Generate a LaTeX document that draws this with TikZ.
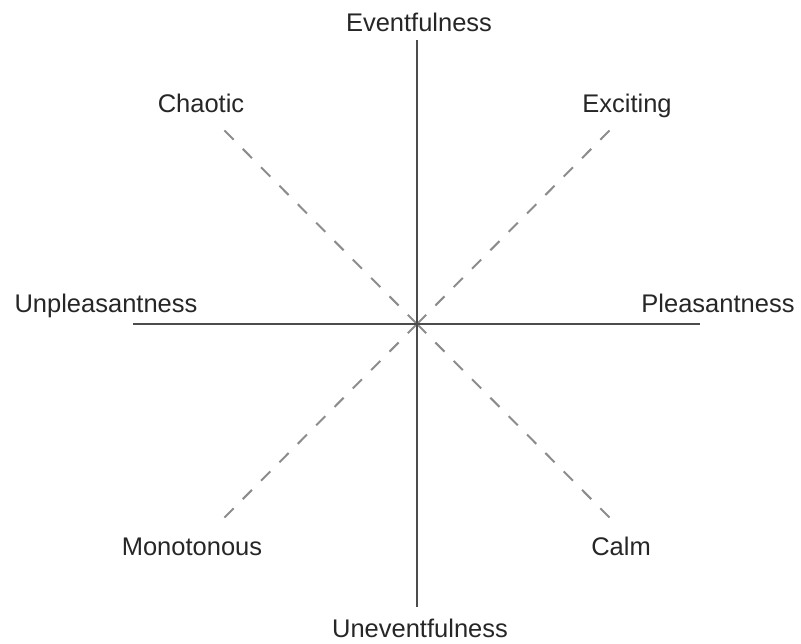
\documentclass[tikz,border=0pt]{standalone}
\usepackage{fontspec}
\setmainfont{Liberation Sans}
\begin{document}
\begin{tikzpicture}[x=1pt,y=-1pt,
  lbl/.style={inner sep=0pt,anchor=base,font=\fontsize{25.5}{28}\selectfont,text=black!85},
  axis/.style={draw=black!70,line width=2pt},
  diag/.style={draw=black!45,line width=2pt,dash pattern=on 13pt off 13pt}]
\useasboundingbox (0,0) rectangle (801,643);
\coordinate (c) at (417,324);
\coordinate (top) at (417,40);
\coordinate (bot) at (417,607);
\coordinate (lft) at (133,324);
\coordinate (rgt) at (700,324);
\coordinate (ul) at (217,123);
\coordinate (ur) at (617,123);
\coordinate (ll) at (217,525);
\coordinate (lr) at (617,525);
\draw[diag] (c) -- (ul);
\draw[diag] (c) -- (ur);
\draw[diag] (c) -- (ll);
\draw[diag] (c) -- (lr);
\draw[axis] (top) -- (bot);
\draw[axis] (lft) -- (rgt);
\node[lbl] (ev) at (419,31) {Eventfulness};
\node[lbl] (un) at (420,637) {Uneventfulness};
\node[lbl] (up) at (106,312) {Unpleasantness};
\node[lbl] (pl) at (718,312) {Pleasantness};
\node[lbl] (ch) at (201,112) {Chaotic};
\node[lbl] (ex) at (627,112) {Exciting};
\node[lbl] (mo) at (192,555) {Monotonous};
\node[lbl] (ca) at (621,555) {Calm};
\end{tikzpicture}
\end{document}
